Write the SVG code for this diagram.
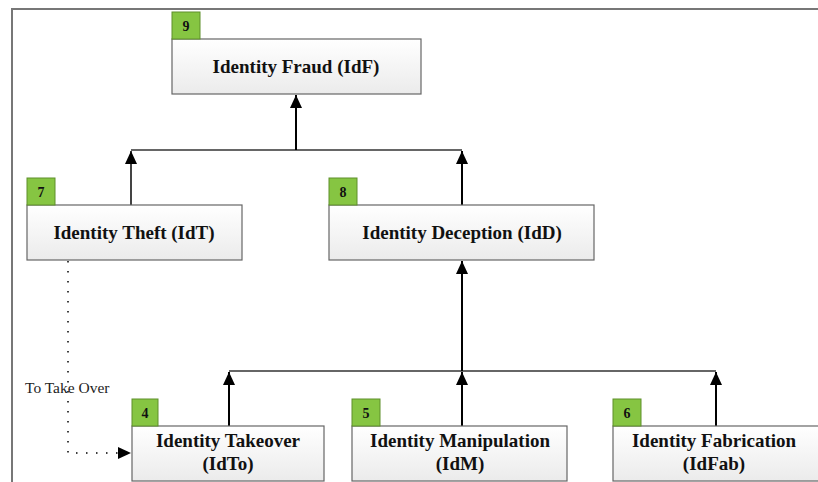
<svg xmlns="http://www.w3.org/2000/svg" width="818" height="482" viewBox="0 0 818 482">
<defs>
<linearGradient id="boxg" x1="0" y1="0" x2="0" y2="1">
<stop offset="0" stop-color="#ffffff"/>
<stop offset="1" stop-color="#ebebeb"/>
</linearGradient>
<marker id="arr" viewBox="0 0 13 12" refX="13" refY="6" markerWidth="13" markerHeight="12" markerUnits="userSpaceOnUse" orient="auto">
<path d="M0,0 L13,6 L0,12 Z" fill="#000"/>
</marker>
</defs>
<style>
.box{fill:url(#boxg);stroke:#666;stroke-width:1.2}
.badge{fill:#86c542;stroke:#5e8f2a;stroke-width:1}
.t{font-family:"Liberation Serif",serif;font-weight:bold;font-size:19px;fill:#111;text-anchor:middle}
.n{font-family:"Liberation Serif",serif;font-weight:bold;font-size:14px;fill:#111;text-anchor:middle}
.bus{stroke:#666;stroke-width:2;fill:none}
.up{stroke:#000;stroke-width:2;fill:none;marker-end:url(#arr)}
.frame{stroke:#777;stroke-width:2;fill:none}
.lbl{font-family:"Liberation Serif",serif;font-size:15.5px;fill:#222}
</style>
<rect width="818" height="482" fill="#fff"/>
<path class="frame" d="M12,482 V9 H818"/>
<g id="connectors">
<path class="bus" d="M131,150 H462"/>
<path class="bus" d="M229,371 H716"/>
<line class="up" x1="296" y1="150" x2="296" y2="95"/>
<line class="up" x1="131" y1="205" x2="131" y2="151" style="stroke:#444"/>
<line class="up" x1="462" y1="205" x2="462" y2="151"/>
<line class="up" x1="462" y1="371" x2="462" y2="261"/>
<line class="up" x1="229" y1="426" x2="229" y2="372"/>
<line class="up" x1="462" y1="426" x2="462" y2="372"/>
<line class="up" x1="716" y1="426" x2="716" y2="372"/>
<path d="M68,261 V453 H131" fill="none" stroke="#000" stroke-width="1.5" stroke-dasharray="1.5,8.5" marker-end="url(#arr)"/>
<text class="lbl" x="25" y="393">To Take Over</text>
</g>
<g id="n9">
<rect class="box" x="172" y="39" width="249" height="55"/>
<rect class="badge" x="172" y="12" width="28" height="27"/>
<text class="n" x="186" y="31">9</text>
<text class="t" x="296" y="73">Identity Fraud (IdF)</text>
</g>
<g id="n7">
<rect class="box" x="27" y="205" width="215" height="55"/>
<rect class="badge" x="27" y="178" width="28" height="27"/>
<text class="n" x="41" y="197">7</text>
<text class="t" x="134" y="239">Identity Theft (IdT)</text>
</g>
<g id="n8">
<rect class="box" x="329" y="205" width="265" height="55"/>
<rect class="badge" x="329" y="178" width="28" height="27"/>
<text class="n" x="343" y="197">8</text>
<text class="t" x="462" y="239">Identity Deception (IdD)</text>
</g>
<g id="n4">
<rect class="box" x="132" y="426" width="192" height="55"/>
<rect class="badge" x="132" y="399" width="26" height="27"/>
<text class="n" x="145" y="418">4</text>
<text class="t" x="228" y="447">Identity Takeover</text>
<text class="t" x="228" y="470">(IdTo)</text>
</g>
<g id="n5">
<rect class="box" x="352" y="426" width="215" height="55"/>
<rect class="badge" x="352" y="399" width="28" height="27"/>
<text class="n" x="366" y="418">5</text>
<text class="t" x="460" y="447">Identity Manipulation</text>
<text class="t" x="460" y="470">(IdM)</text>
</g>
<g id="n6">
<rect class="box" x="613" y="426" width="215" height="55"/>
<rect class="badge" x="613" y="399" width="28" height="27"/>
<text class="n" x="627" y="418">6</text>
<text class="t" x="714" y="447">Identity Fabrication</text>
<text class="t" x="714" y="470">(IdFab)</text>
</g>
</svg>
